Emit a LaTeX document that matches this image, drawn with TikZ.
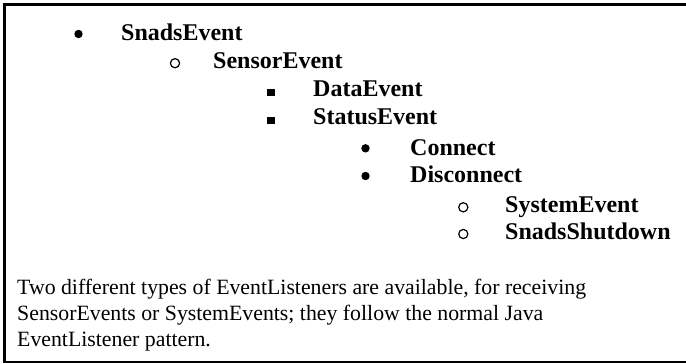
\documentclass[tikz,border=0pt]{standalone}
\usepackage{fontspec}
\setmainfont{Liberation Serif}
\begin{document}
\begin{tikzpicture}[x=1pt,y=-1pt,
  item/.style={anchor=base west,inner sep=0pt,font=\fontsize{24}{26}\selectfont\bfseries},
  body/.style={anchor=base west,inner sep=0pt,font=\fontsize{21.8}{24}\selectfont},
  disc/.style={fill=black},
  ring/.style={draw=black,line width=1.2pt}]
\useasboundingbox (0,0) rectangle (686,364);
\begin{scope}
\clip (0,0) rectangle (686,364);
\draw[line width=2.5pt] (4.5,4.5) rectangle (690,362);
\end{scope}
% level 1
\fill[disc] (78.5,34) circle (4.2);
\node[item] (n1) at (121,40.7) {SnadsEvent};
% level 2
\draw[ring] (175,63.2) circle (4.6);
\node[item] (n2) at (213,68.5) {SensorEvent};
% level 3
\fill[disc] (267,88.7) rectangle (275,96.2);
\node[item] (n3) at (313,96.7) {DataEvent};
\fill[disc] (267,116.5) rectangle (275,124);
\node[item] (n4) at (313,124.5) {StatusEvent};
% level 4
\fill[disc] (365.5,148.3) circle (4.2);
\node[item] (n5) at (410,155) {Connect};
\fill[disc] (365.5,176) circle (4.2);
\node[item] (n6) at (410,182.7) {Disconnect};
% level 5
\draw[ring] (463.3,207.3) circle (4.6);
\node[item] (n7) at (505,212.7) {SystemEvent};
\draw[ring] (463.3,234) circle (4.6);
\node[item] (n8) at (505,239.3) {SnadsShutdown};
% description
\node[body] (t1) at (17,294) {Two different types of EventListeners are available, for receiving};
\node[body] (t2) at (17,320.5) {SensorEvents or SystemEvents; they follow the normal Java};
\node[body] (t3) at (17,346.7) {EventListener pattern.};
\end{tikzpicture}
\end{document}
